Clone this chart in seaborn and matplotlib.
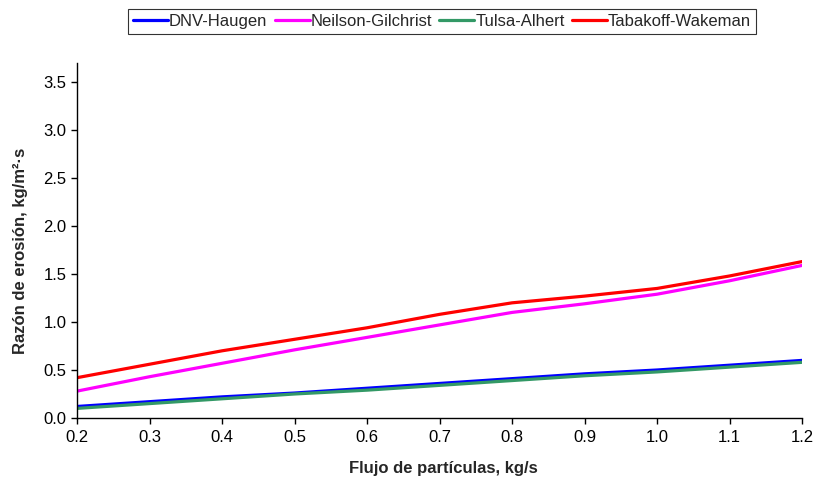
import matplotlib
matplotlib.use("Agg")
import matplotlib.pyplot as plt
import seaborn as sns
import pandas as pd

x = [0.2, 0.3, 0.4, 0.5, 0.6, 0.7, 0.8, 0.9, 1.0, 1.1, 1.2]
dnv_haugen = [0.12, 0.17, 0.22, 0.26, 0.31, 0.36, 0.41, 0.46, 0.50, 0.55, 0.60]
neilson_gilchrist = [0.28, 0.43, 0.57, 0.71, 0.84, 0.97, 1.10, 1.19, 1.29, 1.43, 1.59]
tulsa_alhert = [0.10, 0.15, 0.20, 0.25, 0.29, 0.34, 0.39, 0.44, 0.48, 0.53, 0.58]
tabakoff_wakeman = [0.42, 0.56, 0.70, 0.82, 0.94, 1.08, 1.20, 1.27, 1.35, 1.48, 1.63]

series = ["DNV-Haugen", "Neilson-Gilchrist", "Tulsa-Alhert", "Tabakoff-Wakeman"]
values = [dnv_haugen, neilson_gilchrist, tulsa_alhert, tabakoff_wakeman]
colors = ["#0000FF", "#FF00FF", "#339966", "#FF0000"]

df = pd.DataFrame({
    "x": x * len(series),
    "y": sum(values, []),
    "serie": [s for s in series for _ in x],
})

sns.set_theme(style="white")
plt.rcParams["font.family"] = ["Liberation Sans", "DejaVu Sans"]

fig = plt.figure(figsize=(8.16, 4.84), dpi=100)
ax = fig.add_axes([0.0944, 0.1364, 0.8886, 0.7336])

sns.lineplot(data=df, x="x", y="y", hue="serie", hue_order=series,
             palette=colors, linewidth=2.3, ax=ax, legend=False)

ax.set_xlim(0.2, 1.2)
ax.set_ylim(0, 3.7)
ax.set_xticks([0.2 + 0.1 * i for i in range(11)])
ax.set_xticklabels([f"{0.2 + 0.1 * i:.1f}" for i in range(11)])
ax.set_yticks([0.5 * i for i in range(8)])
ax.set_yticklabels([f"{0.5 * i:.1f}" for i in range(8)])
ax.tick_params(axis="both", labelsize=12, colors="black", length=4,
               width=1, direction="out", bottom=True, left=True)
ax.tick_params(axis="x", pad=5)
for s in ["top", "right"]:
    ax.spines[s].set_visible(False)
for s in ["left", "bottom"]:
    ax.spines[s].set_color("black")
    ax.spines[s].set_linewidth(1)

ax.set_xlabel("Flujo de partículas, kg/s", fontsize=12, fontweight="bold")
ax.set_ylabel("Razón de erosión, kg/m²·s", fontsize=12, fontweight="bold")
ax.xaxis.set_label_coords(0.505, -0.12)
ax.yaxis.set_label_coords(-0.068, 0.47)

handles = [plt.Line2D([], [], color=c, linewidth=2.3) for c in colors]
leg = fig.legend(handles, series, loc="center", bbox_to_anchor=(442 / 816, 1 - 21.5 / 484),
                 ncol=4, frameon=True, fancybox=False, fontsize=12,
                 handlelength=2.1, handletextpad=0.05, columnspacing=0.45,
                 borderpad=0.3, edgecolor="black")
leg.get_frame().set_linewidth(0.8)

fig.savefig("out.png", dpi=100)
